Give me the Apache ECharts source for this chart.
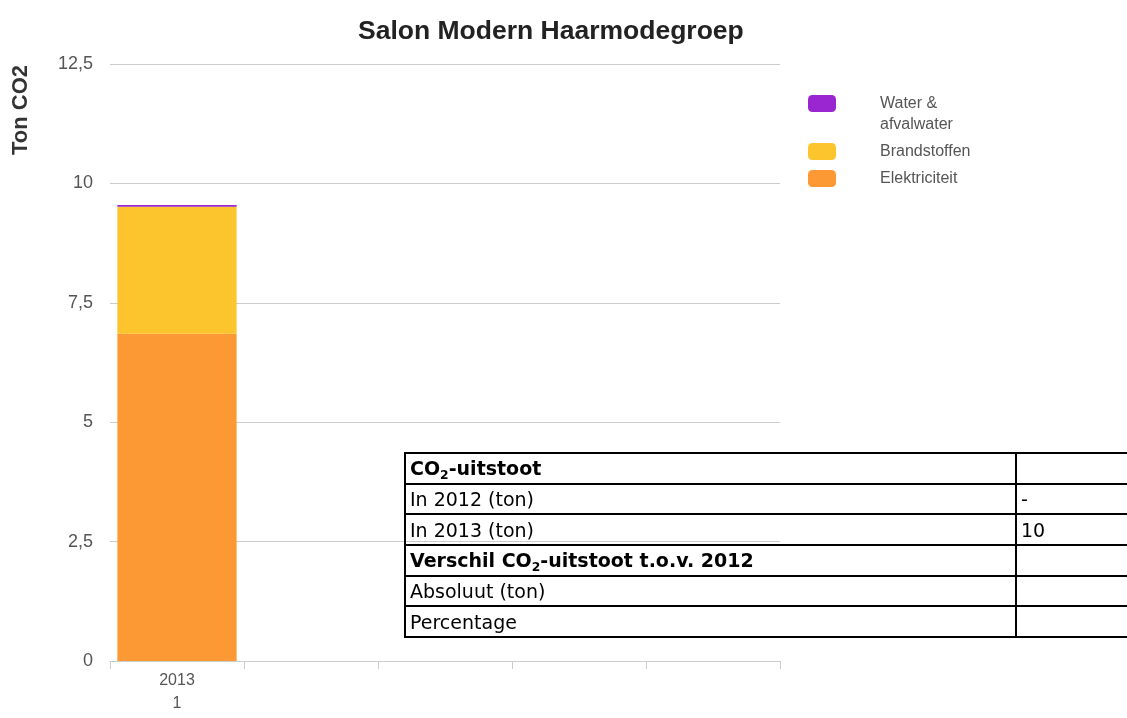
<!DOCTYPE html>
<html>
<head>
<meta charset="utf-8">
<title>Salon Modern Haarmodegroep</title>
<script src="https://cdn.jsdelivr.net/npm/echarts@6/dist/echarts.min.js"></script>
<style>
  html, body { margin: 0; padding: 0; background: #fff; overflow: hidden; }
  #chart { width: 1127px; height: 718px; }
  #co2Table {
    position: absolute; left: 404px; top: 452px; width: 780px;
    border-collapse: collapse; table-layout: fixed;
    font-family: "DejaVu Sans", Verdana, sans-serif; font-size: 19px; color: #000;
  }
  #co2Table td { border: 2px solid #000; height: 28.7px; padding: 0 4px; line-height: 28px; white-space: nowrap; }
  #co2Table td.lbl { width: 601px; }
  #co2Table tr.bold td { font-weight: bold; }
  #co2Table sub { font-size: 0.65em; vertical-align: -0.3em; line-height: 0; }
</style>
</head>
<body>
<div id="chart"></div>
<table id="co2Table"></table>
<script>
// data
const categories = ["2013\n1", "", "", "", ""];
const elektriciteit = [6.85, null, null, null, null];
const brandstoffen = [2.66, null, null, null, null];
const water = [0.04, null, null, null, null];
const legendNames = ["Water & afvalwater", "Brandstoffen", "Elektriciteit"];
const yMin = 0, yMax = 12.5, yStep = 2.5;

// table rows: [label, value, bold]
const tableLabels = ["CO<sub>2</sub>-uitstoot", "In 2012 (ton)", "In 2013 (ton)",
  "Verschil CO<sub>2</sub>-uitstoot t.o.v. 2012", "Absoluut (ton)", "Percentage"];
const tableValues = ["", "-", "10", "", "", ""];
const tableBold = [true, false, false, true, false, false];

const colors = {
  water: "#9a26d2",
  brand: "#fdc52d",
  elek: "#fd9934"
};

const tbl = document.getElementById("co2Table");
tableLabels.forEach((l, i) => {
  const tr = document.createElement("tr");
  if (tableBold[i]) tr.className = "bold";
  tr.innerHTML = '<td class="lbl">' + l + '</td><td>' + tableValues[i] + '</td>';
  tbl.appendChild(tr);
});

const chart = echarts.init(document.getElementById("chart"));
chart.setOption({
  animation: false,
  title: {
    text: "Salon Modern Haarmodegroep",
    left: 358,
    top: 18,
    padding: 0,
    textStyle: {fontFamily: "Liberation Sans", fontSize: 26.5, fontWeight: "bold", color: "#222"}
  },
  legend: {
    orient: "vertical",
    left: 808,
    top: 72,
    padding: 0,
    itemWidth: 28,
    itemHeight: 17,
    itemGap: 6,
    icon: "roundRect",
    data: legendNames,
    // empty first line keeps the swatch level with "Water &"
    formatter: name => name === "Water & afvalwater" ? "\nWater &\nafvalwater" : name,
    textStyle: {fontFamily: "Liberation Sans", fontSize: 16, color: "#555", lineHeight: 21, padding: [0, 0, 0, 39]}
  },
  graphic: [{
    type: "text",
    x: 21,
    y: 110,
    rotation: Math.PI / 2,
    style: {
      text: "Ton CO2",
      font: "bold 22px 'Liberation Sans'",
      fill: "#333",
      align: "center",
      verticalAlign: "middle"
    }
  }],
  grid: {left: 110, right: 347, top: 64, bottom: 57, outerBoundsMode: "none"},
  xAxis: {
    type: "category",
    data: categories,
    axisLine: {lineStyle: {color: "#ccc"}},
    axisTick: {show: true, length: 8, lineStyle: {color: "#ccc"}},
    axisLabel: {interval: 0, fontFamily: "Liberation Sans", fontSize: 16, lineHeight: 23, color: "#555", margin: 8}
  },
  yAxis: {
    type: "value",
    min: yMin,
    max: yMax,
    interval: yStep,
    axisLine: {show: false},
    axisTick: {show: false},
    splitLine: {lineStyle: {color: "#ccc"}},
    axisLabel: {
      fontFamily: "Liberation Sans", fontSize: 18, color: "#555", margin: 17,
      formatter: v => String(v).replace(".", ",")
    }
  },
  series: [
    {name: "Elektriciteit", type: "bar", stack: "co2", data: elektriciteit, barCategoryGap: "11%", itemStyle: {color: colors.elek}},
    {name: "Brandstoffen", type: "bar", stack: "co2", data: brandstoffen, itemStyle: {color: colors.brand}},
    {name: "Water & afvalwater", type: "bar", stack: "co2", data: water, itemStyle: {color: colors.water}}
  ]
});
</script>
</body>
</html>
